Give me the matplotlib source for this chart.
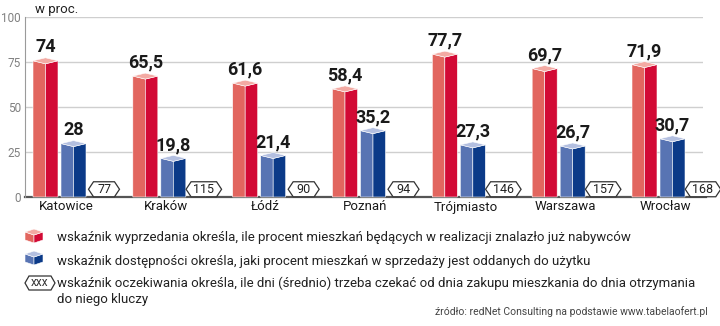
import matplotlib
matplotlib.use('Agg')
import matplotlib.pyplot as plt
from matplotlib.patches import Polygon

# data
cities = ['Katowice', 'Kraków', 'Łódź', 'Poznań', 'Trójmiasto', 'Warszawa', 'Wrocław']
sold_pct = [74, 65.5, 61.6, 58.4, 77.7, 69.7, 71.9]
ready_pct = [28, 19.8, 21.4, 35.2, 27.3, 26.7, 30.7]
wait_days = [77, 115, 90, 94, 146, 157, 168]
yticks = [0, 25, 50, 75, 100]

legend_lines = [
    'wskaźnik wyprzedania określa, ile procent mieszkań będących w realizacji znalazło już nabywców',
    'wskaźnik dostępności określa, jaki procent mieszkań w sprzedaży jest oddanych do użytku',
    'wskaźnik oczekiwania określa, ile dni (średnio) trzeba czekać od dnia zakupu mieszkania do dnia otrzymania',
    'do niego kluczy',
]
source = 'źródło: redNet Consulting na podstawie www.tabelaofert.pl'

RED = ('#e2665f', '#d20a35', '#f3aaa3')    # left face, right face, top
BLUE = ('#5874b3', '#0b3a88', '#b3bfe0')

plt.rcParams['font.family'] = ['Roboto', 'DejaVu Sans']

W, H = 720, 326
fig = plt.figure(figsize=(W / 100, H / 100), dpi=100)

# main axes: x in pixel units, y in percent (1.8 px per unit)
ax = fig.add_axes([25 / W, (H - 197) / H, 678 / W, 180 / H])
ax.set_xlim(25, 703)
ax.set_ylim(0, 100)
for s in ['top', 'right', 'bottom']:
    ax.spines[s].set_visible(False)
ax.spines['left'].set_color('#9a9a9a')
ax.spines['left'].set_linewidth(0.8)
ax.set_xticks([])
ax.set_yticks(yticks)
ax.tick_params(axis='y', length=0, pad=3, labelsize=8.5, labelcolor='#808080')
for t in yticks[1:]:
    ax.axhline(t, color='#cfcfcf', lw=1, zorder=0)
ax.plot([25, 706], [0, 0], color='#555555', lw=1.6, clip_on=False, zorder=1)

UNIT = 1.8          # px per percent
depth = 6 / UNIT    # height of the bar top face


def fmt(v):
    return ('%g' % v).replace('.', ',')


def bar3d(a, x0, x1, v, colors, zorder=3):
    xm = (x0 + x1) / 2
    left = [(x0, 0), (x0, v + depth / 2), (xm, v), (xm, 0)]
    right = [(xm, 0), (xm, v), (x1, v + depth / 2), (x1, 0)]
    top = [(x0, v + depth / 2), (xm, v), (x1, v + depth / 2), (xm, v + depth)]
    for pts, c in zip([left, right, top], colors):
        a.add_patch(Polygon(pts, closed=True, facecolor=c, edgecolor='white',
                            lw=0.4, zorder=zorder, clip_on=False))


def hexagon(a, cx, cy, w, h, c, **kw):
    pts = [(cx - w / 2, cy), (cx - w / 2 + c, cy + h / 2), (cx + w / 2 - c, cy + h / 2),
           (cx + w / 2, cy), (cx + w / 2 - c, cy - h / 2), (cx - w / 2 + c, cy - h / 2)]
    a.add_patch(Polygon(pts, closed=True, facecolor='white', edgecolor='#333333',
                        lw=0.9, clip_on=False, **kw))


step = (632 - 33) / (len(cities) - 1)
bar_w = 25
for i, city in enumerate(cities):
    x0 = 33 + i * step
    bar3d(ax, x0, x0 + bar_w, sold_pct[i], RED)
    bar3d(ax, x0 + 28, x0 + 28 + bar_w, ready_pct[i], BLUE)
    ax.text(x0 + bar_w / 2, sold_pct[i] + depth + 3, fmt(sold_pct[i]),
            ha='center', va='baseline', fontsize=13, fontweight='bold', color='#1a1a1a')
    ax.text(x0 + 28 + bar_w / 2, ready_pct[i] + depth + 3, fmt(ready_pct[i]),
            ha='center', va='baseline', fontsize=13, fontweight='bold', color='#1a1a1a')
    lab = str(wait_days[i])
    hx = x0 + 71
    hexagon(ax, hx, 4.3, 22 + 4.5 * len(lab), 15 / UNIT, 5, zorder=4)
    ax.text(hx, 4.3, lab, ha='center', va='center', fontsize=9, color='#222222', zorder=5)
    ax.text(x0 + 33, -10 / UNIT, city, ha='center', va='center', fontsize=9.5,
            color='#1a1a1a')

# overlay in pixel coordinates for the header, legend and source
ov = fig.add_axes([0, 0, 1, 1], zorder=-1)
ov.set_xlim(0, W)
ov.set_ylim(H, 0)
ov.axis('off')
ov.text(35, 9, 'w proc.', fontsize=9.5, color='#222222', va='center', ha='left')


def cube_icon(a, x0, x1, ytop, ybot, colors):
    xm = (x0 + x1) / 2
    d = 3
    left = [(x0, ybot - d), (x0, ytop + d), (xm, ytop + 2 * d), (xm, ybot)]
    right = [(xm, ybot), (xm, ytop + 2 * d), (x1, ytop + d), (x1, ybot - d)]
    top = [(x0, ytop + d), (xm, ytop + 2 * d), (x1, ytop + d), (xm, ytop)]
    for pts, c in zip([left, right, top], colors):
        a.add_patch(Polygon(pts, closed=True, facecolor=c, edgecolor='white', lw=0.4))


cube_icon(ov, 25, 43, 229, 243, RED)
cube_icon(ov, 25, 43, 251, 265, BLUE)
hexagon(ov, 40, 283, 30, 14, 4)
ov.text(40, 283, 'xxx', ha='center', va='center', fontsize=8.5, color='#333333')

leg_y = [237, 261, 283, 299]
for y, txt in zip(leg_y, legend_lines):
    ov.text(57, y, txt, ha='left', va='center', fontsize=9.5, color='#222222')

ov.text(708, 312, source, ha='right', va='center', fontsize=7.5, color='#444444')

fig.savefig('out.png', dpi=100)
